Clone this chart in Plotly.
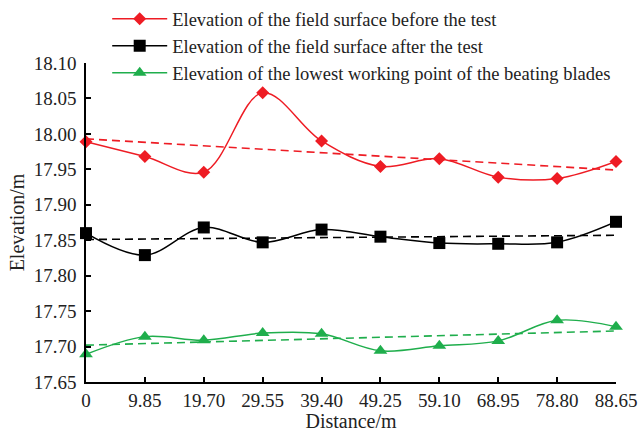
import plotly.graph_objects as go

distance = [0, 9.85, 19.70, 29.55, 39.40, 49.25, 59.10, 68.95, 78.80, 88.65]
tick_labels = ["0", "9.85", "19.70", "29.55", "39.40", "49.25", "59.10", "68.95", "78.80", "88.65"]
y_ticks = [17.65, 17.70, 17.75, 17.80, 17.85, 17.90, 17.95, 18.00, 18.05, 18.10]

before_test = [17.989, 17.968, 17.946, 18.058, 17.990, 17.954, 17.965, 17.939, 17.937, 17.961]
after_test = [17.860, 17.829, 17.868, 17.847, 17.865, 17.855, 17.846, 17.845, 17.847, 17.876]
lowest_point = [17.689, 17.714, 17.709, 17.719, 17.718, 17.694, 17.701, 17.708, 17.737, 17.728]

trend_x = [0, 88.65]
before_trend = [17.993, 17.949]
after_trend = [17.851, 17.857]
lowest_trend = [17.702, 17.722]

names = [
    "Elevation of the field surface before the test",
    "Elevation of the field surface after the test",
    "Elevation of the lowest working point of the beating blades",
]
colors = ["#ee1c24", "#000000", "#1fae4c"]
symbols = ["diamond", "square", "triangle-up"]
sizes = [10, 12, 12]

fig = go.Figure()
for ys, tr, nm, c, s, sz in zip([before_test, after_test, lowest_point],
                                [before_trend, after_trend, lowest_trend],
                                names, colors, symbols, sizes):
    fig.add_trace(go.Scatter(x=trend_x, y=tr, mode="lines", showlegend=False,
                             line=dict(color=c, width=1.6, dash="8px,5px"), hoverinfo="skip"))
    fig.add_trace(go.Scatter(x=distance, y=ys, mode="lines+markers", name=nm,
                             line=dict(color=c, width=1.5, shape="spline", smoothing=1.0),
                             marker=dict(symbol=s, size=sz, color=c), cliponaxis=False))

font_family = "Liberation Serif, Times New Roman, serif"
fig.update_layout(
    width=639, height=432,
    margin=dict(l=86, r=23, t=63, b=50, autoexpand=False),
    paper_bgcolor="white", plot_bgcolor="white",
    font=dict(family=font_family, size=19, color="#222222"),
    showlegend=True,
    legend=dict(x=0.04, y=1.197, xanchor="left", yanchor="top",
                font=dict(family=font_family, size=18.5, color="#222222"),
                bgcolor="rgba(0,0,0,0)", tracegroupgap=0, itemwidth=55),
    xaxis=dict(range=[0, 88.65], tickvals=distance, ticktext=tick_labels,
               showline=True, linecolor="black", linewidth=1.5, ticks="inside",
               ticklen=5, tickwidth=1.5, tickcolor="black", showgrid=False, zeroline=False,
               tickfont=dict(size=19),
               title=dict(text="Distance/m", font=dict(size=20), standoff=7)),
    yaxis=dict(range=[17.65, 18.10], tickvals=y_ticks,
               tickformat=".2f",
               showline=True, linecolor="black", linewidth=1.5, ticks="inside",
               ticklen=5, tickwidth=1.5, tickcolor="black", showgrid=False, zeroline=False,
               tickfont=dict(size=19), ticklabelstandoff=4,
               title=dict(text="Elevation/m", font=dict(size=20), standoff=4)),
)

fig.write_html("out.html")
